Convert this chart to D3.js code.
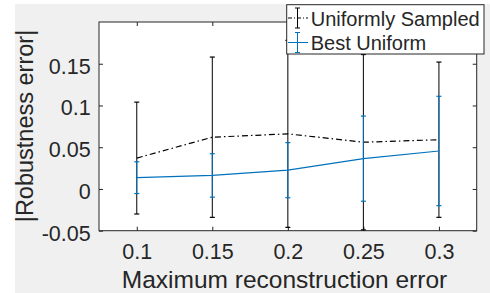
<!DOCTYPE html>
<html>
<head>
<meta charset="utf-8">
<script src="https://cdn.jsdelivr.net/npm/d3@7"></script>
<style>
  body { margin: 0; background: #fff; }
  text { font-family: "Liberation Sans", Arial, sans-serif; fill: #262626; }
</style>
</head>
<body>
<div id="chart-area"></div>
<script>
// data
var xVals = [0.1, 0.15, 0.2, 0.25, 0.3];
var uniformMean = [0.037, 0.062, 0.066, 0.056, 0.059];
var uniformErr = [0.067, 0.096, 0.112, 0.105, 0.093];
var bestMean = [0.0135, 0.0162, 0.0225, 0.0363, 0.0455];
var bestErr = [0.019, 0.026, 0.033, 0.051, 0.0655];
var xTicks = [0.1, 0.15, 0.2, 0.25, 0.3];
var xTickLabels = ["0.1", "0.15", "0.2", "0.25", "0.3"];
var yTicks = [-0.05, 0, 0.05, 0.1, 0.15];
var yTickLabels = ["-0.05", "0", "0.05", "0.1", "0.15"];
var seriesNames = ["Uniformly Sampled", "Best Uniform"];

var W = 490, H = 293;
var axL = 99, axR = 476.7, axT = 22, axB = 230.7;

var svg = d3.select("#chart-area").append("svg")
    .attr("width", W)
    .attr("height", H);

// fondo gris de la figura
svg.append("rect")
    .attr("x", 15).attr("y", 4)
    .attr("width", W - 15).attr("height", H - 4)
    .attr("fill", "#f0f0f0");

svg.append("rect")
    .attr("x", axL).attr("y", axT)
    .attr("width", axR - axL).attr("height", axB - axT)
    .attr("fill", "#fff");

var x = d3.scaleLinear().domain([0.075, 0.325]).range([axL, axR]);
var y = d3.scaleLinear().domain([-0.05, 0.2]).range([axB, axT]);

// axes (ticks inside, box on)
var axisColor = "#262626";
var gx = svg.append("g").attr("transform", "translate(0," + axB + ")")
    .call(d3.axisBottom(x).tickValues(xTicks).tickSize(-4).tickFormat((d, i) => xTickLabels[i]));
var gxt = svg.append("g").attr("transform", "translate(0," + axT + ")")
    .call(d3.axisTop(x).tickValues(xTicks).tickSize(-4).tickFormat(""));
var gy = svg.append("g").attr("transform", "translate(" + axL + ",0)")
    .call(d3.axisLeft(y).tickValues(yTicks).tickSize(-4).tickFormat((d, i) => yTickLabels[i]));
var gyr = svg.append("g").attr("transform", "translate(" + axR + ",0)")
    .call(d3.axisRight(y).tickValues(yTicks).tickSize(-4).tickFormat(""));

[gx, gxt, gy, gyr].forEach(function(g) {
    g.select(".domain").remove();
    g.selectAll(".tick line").attr("stroke", axisColor).attr("stroke-width", 1);
});
gx.selectAll(".tick text")
    .attr("font-size", "21.5px").attr("fill", axisColor)
    .attr("y", 259 - axB).attr("dy", 0);
gy.selectAll(".tick text")
    .attr("font-size", "21.5px").attr("fill", axisColor)
    .attr("x", 90.7 - axL).attr("dy", 0).attr("y", 9.5);
// box outline
svg.append("rect")
    .attr("x", axL).attr("y", axT)
    .attr("width", axR - axL).attr("height", axB - axT)
    .attr("fill", "none").attr("stroke", axisColor).attr("stroke-width", 1);

function drawSeries(mean, err, color, dash) {
    var g = svg.append("g");
    xVals.forEach(function(xv, i) {
        var cx = x(xv);
        g.append("line")
            .attr("x1", cx).attr("x2", cx)
            .attr("y1", y(mean[i] - err[i])).attr("y2", y(mean[i] + err[i]))
            .attr("stroke", color).attr("stroke-width", 1);
        [mean[i] - err[i], mean[i] + err[i]].forEach(function(v) {
            g.append("line")
                .attr("x1", cx - 2.5).attr("x2", cx + 2.5)
                .attr("y1", y(v)).attr("y2", y(v))
                .attr("stroke", color).attr("stroke-width", 1.2);
        });
    });
    g.append("path")
        .datum(xVals.map((xv, i) => [xv, mean[i]]))
        .attr("d", d3.line().x(d => x(d[0])).y(d => y(d[1])))
        .attr("fill", "none")
        .attr("stroke", color)
        .attr("stroke-width", 1.2)
        .attr("stroke-dasharray", dash);
}

drawSeries(uniformMean, uniformErr, "#000", "6,3,1.5,3");
drawSeries(bestMean, bestErr, "#0072bd", null);

// leyenda
var legend = svg.append("g");
legend.append("rect")
    .attr("x", 286.7).attr("y", 4.7)
    .attr("width", 197.3).attr("height", 49.3)
    .attr("fill", "#fff").attr("stroke", axisColor).attr("stroke-width", 1);

var legendColors = ["#000", "#0072bd"];
var legendDash = ["4,2,1,2", null];
var legendY = [18, 42.5];
seriesNames.forEach(function(name, i) {
    var ly = legendY[i];
    legend.append("line")
        .attr("x1", 288).attr("x2", 308)
        .attr("y1", ly).attr("y2", ly)
        .attr("stroke", legendColors[i]).attr("stroke-width", 1)
        .attr("stroke-dasharray", legendDash[i]);
    legend.append("line")
        .attr("x1", 297.5).attr("x2", 297.5)
        .attr("y1", ly - 10).attr("y2", ly + 10)
        .attr("stroke", legendColors[i]).attr("stroke-width", 1);
    [ly - 10, ly + 10].forEach(function(cy) {
        legend.append("line")
            .attr("x1", 295).attr("x2", 300)
            .attr("y1", cy).attr("y2", cy)
            .attr("stroke", legendColors[i]).attr("stroke-width", 1);
    });
    legend.append("text")
        .attr("x", 310.7).attr("y", ly + 7.5)
        .attr("font-size", "20px")
        .attr("fill", "#000")
        .text(name);
});

// etiquetas de los ejes
svg.append("text")
    .attr("x", 284.5).attr("y", 288)
    .attr("text-anchor", "middle")
    .attr("font-size", "24.5px")
    .text("Maximum reconstruction error");

svg.append("text")
    .attr("transform", "translate(33,126) rotate(-90)")
    .attr("text-anchor", "middle")
    .attr("font-size", "23.5px")
    .text("|Robustness error|");
</script>
</body>
</html>
